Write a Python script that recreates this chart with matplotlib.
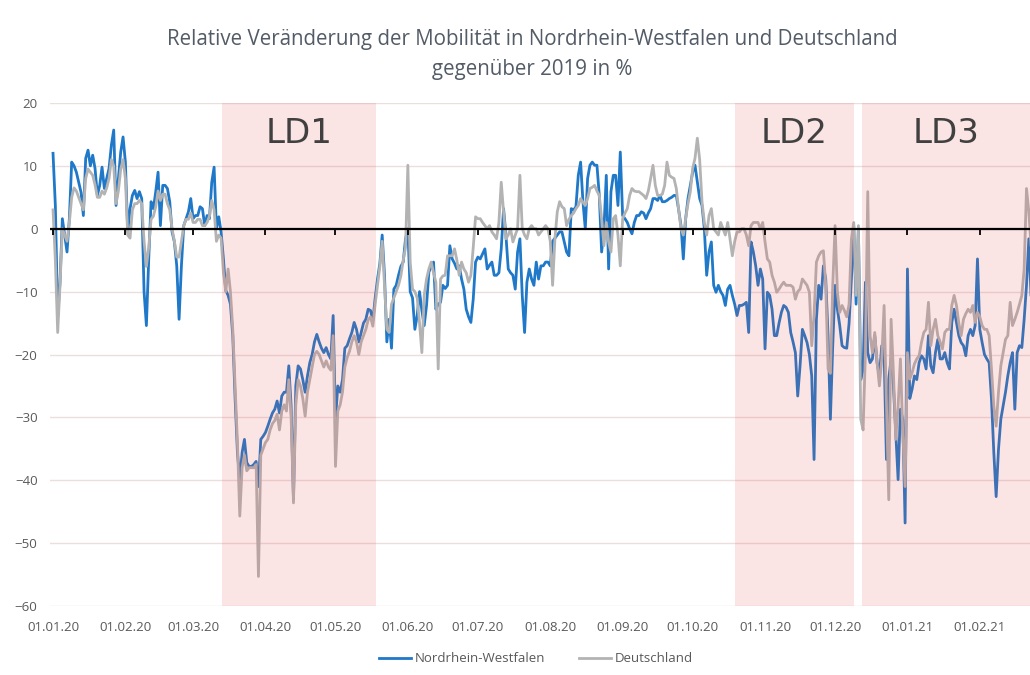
import numpy as np
import pandas as pd
import matplotlib
matplotlib.use("Agg")
import matplotlib.pyplot as plt
import matplotlib.dates as mdates

plt.rcParams['font.family'] = ['Open Sans', 'DejaVu Sans']

# ---------------- data (daily values, starting 01.01.2020) ----------------
start_date = "2020-01-01"

nrw = [
    12, 3.7, -14, -8.5, 1.6, -1, -3.7, 1.6, 10.6, 10,
    9, 7.4, 5.8, 2.1, 11.2, 12.5, 10, 11.7, 9.6, 5.3,
    6.9, 9.8, 6.4, 8, 9.6, 13.3, 15.7, 3.7, 8, 12.2,
    14.6, 10.6, -0.5, 3.2, 5.3, 6.1, 4.8, 5.9, 4.8, -10,
    -15.4, -4.8, 4.3, 3.2, 5.9, 9, 0.5, 6.9, 6.9, 6.4,
    4.3, -0.5, -2.1, -5.9, -14.4, -5.9, 0.5, 1.6, 2.7, 4.8,
    1.6, 2.1, 2.1, 3.5, 3.2, 0.5, 2.1, 1.6, 7.4, 9.8,
    0, 1.9, -0.5, -4.8, -9.8, -10.6, -12, -17, -27, -35.6,
    -40, -35.6, -33.5, -37.2, -37.8, -37.8, -37.5, -37, -41, -33.5,
    -33, -32.4, -31.4, -30.3, -29.3, -28.7, -27.4, -29.3, -26.6, -26,
    -26, -21.8, -28.2, -43, -25, -21.8, -22.3, -24, -26, -23.4,
    -21.3, -20, -18, -16.8, -18, -19, -19.7, -18.9, -20, -20.7,
    -13.8, -30.3, -25, -26, -24, -19, -18.6, -17.5, -16.5, -14.9,
    -16, -18, -16.5, -15, -14.4, -12.8, -13, -14.6, -11, -8,
    -5.5, -1, -7.4, -18, -14.4, -19, -9.6, -9, -7.4, -6,
    -5.3, -1.6, 0, -10, -11, -16, -13.8, -10, -13, -15.4,
    -12.2, -6.9, -6, -5.3, -12.8, -12, -11.7, -9, -9.5, -9,
    -2.7, -4.8, -5.5, -6.4, -5.9, -8, -9.6, -12.8, -14, -14.9,
    -11.2, -5.3, -4.5, -4.8, -4, -3.2, -6.4, -5.8, -5.3, -7.4,
    -7.4, -7, -3.2, 3.2, -1, -6.4, -7, -7.4, -9.6, -3.7,
    -1.6, -10.6, -16.5, -8.5, -6.4, -8, -9, -5.3, -8, -5.9,
    -5.9, -5.3, -5.3, -5.9, -2, -1.5, -1, -0.5, -0.5, -2.1,
    -3.7, -4.3, 3.2, 3, 3.5, 8.5, 10.6, 4.3, 0, 8,
    10.1, 10.6, 10.1, 10.1, 5.3, -3.7, 0, 8.5, -6.4, 5.9,
    8.5, 8.5, 3.7, 12.2, 2.1, 1.6, 1, 0, -0.8, 1,
    2.1, 2.1, 2.7, 2.5, 1.6, 2.5, 3.2, 4.8, 4.8, 4.5,
    5.3, 4.3, 4.3, 4.5, 4.8, 5, 5.3, 5.3, 3, 0.5,
    -4.8, 1.6, 4.8, 6.9, 9, 10.1, 7.4, 4.8, 3.7, 0,
    -7.4, -3.7, -2.1, -9, -10.1, -9, -10, -10.6, -12.2, -9.6,
    -9, -10.6, -12, -13.8, -12.2, -12.2, -12, -11.7, -16.5, -2.1,
    -3.7, -5.9, -9, -6.4, -8, -19.1, -10.1, -10.6, -12.8, -17,
    -17, -15, -13.3, -12.2, -12.5, -13.3, -16.5, -18, -19.7, -26.6,
    -21.8, -16, -17, -18.1, -20, -23.4, -36.7, -14.4, -9, -11.2,
    -5.9, -8, -17, -30.3, -18.6, -9, -12.8, -15.4, -18.6, -18.9,
    -19, -15, -8, 0.5, -12, 0, -24, -22.3, -8.5, -19.7,
    -21.3, -20.7, -17, -21.3, -23.4, -18.6, -19.7, -36.7, -23.9, -20.7,
    -25, -32.4, -39.9, -28.7, -30.3, -46.8, -6.4, -27, -25.5, -23.4,
    -24, -21.3, -20.2, -20.7, -22.3, -17, -21.8, -22.9, -19.7, -17.6,
    -20.7, -20.7, -19.7, -21.3, -22.3, -14.9, -12.8, -14.9, -17, -18.1,
    -18.6, -20.2, -17, -16, -17, -15.4, -4.8, -16, -18.1, -20,
    -20.7, -21.3, -27.1, -35.6, -42.6, -35.1, -30.3, -28.2, -26, -23.4,
    -21.3, -19.7, -28.7, -19.7, -18.6, -18.9, -14.4, -9, -1.6, -11.2,
]

deutschland = [
    3, -5, -16.5, -9, 0, -1, -2, 1, 5, 6.5,
    6, 5, 4, 3, 8, 9.5, 9, 8.5, 7, 5,
    5, 6, 5.5, 6.5, 8, 11, 10, 4, 6, 9.5,
    11, 8, -1, -1.5, 3, 4, 4, 4.5, 4, -2,
    -6, -3, 1.5, 2, 3.5, 6, 4.5, 5.5, 5.5, 4,
    3, 0, -2, -4.5, -4.5, -2, 0.5, 1.5, 1.5, 2.5,
    1, 1, 1.5, 1.5, 0.5, 0.5, 1, 2, 4.5, 3,
    -2, -1, -1.5, -7, -10, -6.4, -10, -16, -25, -34,
    -45.7, -38, -36, -38.5, -38, -38, -38, -37.5, -55.3, -36,
    -35, -34, -33.5, -32, -31, -30.5, -29.5, -32, -29, -28,
    -29, -24, -30, -43.6, -28, -24, -25, -27, -29.8, -26,
    -24, -22, -20, -19.5, -20, -21, -22, -21, -22, -22.5,
    -17, -37.8, -29, -28, -26, -22, -20.5, -19.5, -18, -17,
    -18, -20, -18, -17, -16, -14.5, -14, -15.5, -12, -9,
    -6, -2, -9, -16, -16.5, -12, -11, -10, -9, -7.5,
    -5, -3, 10.1, -5.3, -9.6, -10, -11, -15, -19.7, -10.6,
    -8, -6.4, -5.3, -7, -8.5, -22.3, -8, -7.5, -7.4, -4.3,
    -4.3, -4.3, -3.2, -5, -7.4, -5.3, -6.4, -7, -8.5, -7.4,
    -3, 1.9, 1.6, 1.6, 1, 0.5, 0, 0.5, -0.5, -1,
    -1.6, 1, 7.4, 2.7, -1.6, -1, 0, -2.1, -1, 0,
    8.5, 0, -1, -1.6, 0, 0.5, 0, 0, -1, -0.5,
    0, 0.5, 0, -2, -9, -1.6, 2.7, 4.3, 3.5, 3.2,
    0.5, 1.5, 2.1, 2.5, 3.2, 3.7, 4.8, 4.2, 3.7, 4.8,
    6.4, 6.6, 6.9, 6, 5.3, 1.6, -2.7, 1, -2.1, -3.7,
    1.6, 2.1, -1, -5.9, 1.6, 2.5, 3.2, 5.3, 6.4, 6,
    5.9, 5.9, 5.6, 5.3, 4.8, 6, 8, 10.1, 6.9, 5.3,
    5.3, 5.5, 6.9, 10.6, 8.5, 8.2, 8, 6.4, 3, 0,
    -1, 1.6, 4, 5.9, 9.6, 11.2, 14.4, 11, 4.3, 1,
    -1, 2.1, 3.2, 0, -0.5, -1, 1, 0, -1, 1,
    -1.6, -4.3, -2, -0.5, -0.5, 0, 0, -1, -2.7, 0.5,
    1, 1, 1, 0, 1, -2.1, -4.8, -5.3, -7.4, -8.5,
    -10.1, -9.6, -9, -8.5, -9, -9, -9, -9.3, -11.2, -10,
    -9.6, -8, -8.5, -9, -10.1, -18.6, -13.8, -5.3, -4.3, -3.7,
    -3.5, -9, -22.3, -23, -9, 0.5, -10.1, -13.3, -12.2, -13,
    -14, -12, -1.6, 1, -10.6, 0.5, -30.3, -32, -19.7, 5.9,
    -17, -19.7, -16.5, -21.3, -25, -20.7, -12.2, -27.7, -43.1, -14.4,
    -22.9, -33.5, -28.2, -20.7, -32.4, -41, -19.7, -23.9, -22.9, -21.5,
    -20.7, -20.2, -18.1, -16.5, -16, -11.7, -18.6, -16, -14.4, -17,
    -18, -19.1, -16.5, -16, -16, -12.2, -10.6, -12.2, -15, -17,
    -14.4, -13.5, -12.8, -13.3, -12.2, -14.9, -13.3, -14, -15.4, -16,
    -16, -17, -22.3, -28.2, -31.4, -26, -21.8, -19.7, -17.6, -17,
    -11.7, -15.4, -14.4, -13.3, -12, -10.6, -6.4, 6.4, 2.7, -3,
]

series_names = ["Nordrhein-Westfalen", "Deutschland"]
lockdown_labels = ["LD1", "LD2", "LD3"]
lockdown_start = ["2020-03-13 09:00", "2020-10-19 03:00", "2020-12-12 12:00"]
lockdown_end = ["2020-05-18 07:00", "2020-12-09 00:00", "2021-03-01 00:00"]
tick_months = pd.date_range("2020-01-01", "2021-02-01", freq="MS")
title_lines = ["Relative Veränderung der Mobilität in Nordrhein-Westfalen und Deutschland",
               "gegenüber 2019 in %"]

# ---------------- figure ----------------
W, H = 1030, 675
fig = plt.figure(figsize=(W / 100, H / 100), dpi=100)
ax = fig.add_axes([50 / W, 1 - 606 / H, 980 / W, 503 / H])

d0 = pd.Timestamp(start_date)
dates_nrw = pd.date_range(start_date, periods=len(nrw), freq="D")
dates_de = pd.date_range(start_date, periods=len(deutschland), freq="D")

xmin = d0 - pd.Timedelta(hours=31)
xmax = d0 + pd.Timedelta(days=418.5)

blue = "#1f78c8"
grey = "#b3b3b3"
l1, = ax.plot(dates_nrw, nrw, color=blue, lw=2.0, zorder=2, label=series_names[0])
l2, = ax.plot(dates_de, deutschland, color=grey, lw=2.0, zorder=2.1, label=series_names[1])

for lab, s, e in zip(lockdown_labels, lockdown_start, lockdown_end):
    s = pd.Timestamp(s)
    e = min(pd.Timestamp(e), xmax + pd.Timedelta(days=2))
    ax.axvspan(s, e, ymin=0, ymax=1, color="#e8504f", alpha=0.15, lw=0, zorder=3)
    cx = s + (min(e, xmax + pd.Timedelta(days=0.5)) - s) / 2
    ax.text(cx, 15.2, lab, ha="center", va="center", fontsize=24.5,
            family=["DejaVu Sans"], color="#404040", zorder=6)

ax.axhline(0, color="black", lw=1.6, zorder=4)

ax.set_xlim(xmin, xmax)
ax.set_ylim(-60, 20)
ax.set_yticks(np.arange(-60, 21, 10))
ax.yaxis.grid(True, color="#ecdede", lw=1.0, zorder=0)
ax.set_axisbelow(True)
for sp in ax.spines.values():
    sp.set_visible(False)

ax.set_xticks(tick_months)
ax.xaxis.set_major_formatter(mdates.DateFormatter("%d.%m.%y"))
ax.tick_params(axis="x", length=0, pad=11, labelsize=9.5, labelcolor="#595959")
ax.tick_params(axis="y", length=0, pad=9, labelsize=9.5, labelcolor="#595959")

# small tick marks on the zero line
sec = ax.secondary_xaxis(0.75)
sec.set_xticks(tick_months)
sec.tick_params(axis="x", direction="in", length=4, width=1.3, color="black",
                labeltop=False, labelbottom=False)
for sp in sec.spines.values():
    sp.set_visible(False)
sec.set_zorder(5)

title_color = "#525b66"
fig.text(532 / W, 1 - 40 / H, title_lines[0], ha="center", va="center", fontsize=14.8,
         color=title_color)
fig.text(532 / W, 1 - 70 / H, title_lines[1], ha="center", va="center", fontsize=14.8,
         color=title_color)

fig.legend(handles=[l1, l2], loc="center", bbox_to_anchor=(536 / W, 1 - 659 / H),
           ncol=2, frameon=False, fontsize=9.5, handlelength=2.4, columnspacing=2.6,
           labelcolor="#595959", handletextpad=0.3)

fig.savefig("out.png", dpi=100)
